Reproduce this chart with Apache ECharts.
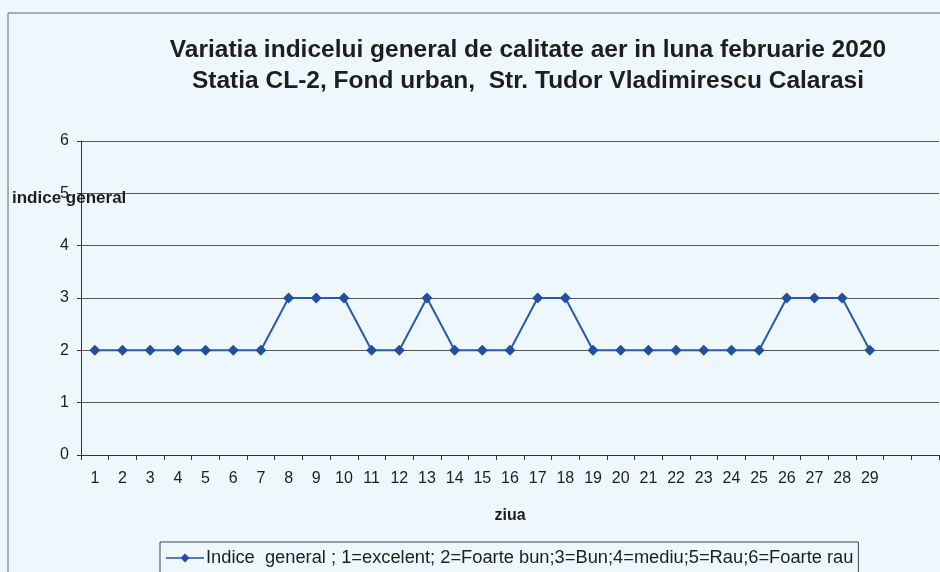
<!DOCTYPE html>
<html>
<head>
<meta charset="utf-8">
<script src="https://cdn.jsdelivr.net/npm/echarts@6/dist/echarts.min.js"></script>
<style>
  html, body { margin: 0; padding: 0; background: #eef7fb; }
  #chart { width: 940px; height: 572px; }
</style>
</head>
<body>
<div id="chart"></div>
<script>
// zilele lunii (30 si 31 raman goale, februarie are 29 zile)
const days = [];
for (let d = 1; d <= 31; d++) days.push(d <= 29 ? String(d) : '');

// indice general pe zile
const indiceGeneral = [2, 2, 2, 2, 2, 2, 2, 3, 3, 3, 2, 2, 3, 2, 2, 2, 3, 3, 2, 2, 2, 2, 2, 2, 2, 3, 3, 3, 2];

const titleLines = [
    'Variatia indicelui general de calitate aer in luna februarie 2020',
    'Statia CL-2, Fond urban,  Str. Tudor Vladimirescu Calarasi'
];
const seriesName = 'Indice  general ; 1=excelent; 2=Foarte bun;3=Bun;4=mediu;5=Rau;6=Foarte rau';

const chart = echarts.init(document.getElementById('chart'));

const font = 'Liberation Sans, Arial, sans-serif';

chart.setOption({
    backgroundColor: '#eef7fb',
    animation: false,
    title: {
        text: titleLines.join('\n'),
        left: 523,
        top: 30,
        textAlign: 'center',
        textStyle: {
            fontFamily: font,
            fontSize: 24.5,
            fontWeight: 'bold',
            color: '#1e1e1e',
            lineHeight: 31
        }
    },
    graphic: [
        {
            type: 'rect',
            shape: { x: 8, y: 13, width: 960, height: 600 },
            style: { fill: 'none', stroke: '#666', lineWidth: 1 },
            silent: true
        },
        {
            type: 'text',
            left: 12,
            top: 190,
            style: {
                text: 'indice general',
                fontFamily: font,
                fontSize: 17,
                fontWeight: 'bold',
                fill: '#1e1e1e'
            },
            z: 100
        }
    ],
    legend: {
        left: 160,
        top: 542,
        padding: [7, 5, 10, 6],
        borderColor: '#444',
        borderWidth: 1,
        itemWidth: 38,
        itemHeight: 9,
        itemGap: 4,
        textStyle: { fontFamily: font, fontSize: 18.3, color: '#1e1e1e', padding: [0, 0, 0, -3] },
        data: [{ name: seriesName, icon: 'path://M0,3.8 L38,3.8 L38,5.2 L0,5.2 Z M19,0 L23.5,4.5 L19,9 L14.5,4.5 Z' }]
    },
    grid: {
        left: 81,
        right: 1,
        top: 141,
        bottom: 117,
        containLabel: false
    },
    xAxis: {
        type: 'category',
        data: days,
        name: 'ziua',
        nameLocation: 'middle',
        nameGap: 53,
        nameTextStyle: { fontFamily: font, fontSize: 16, fontWeight: 'bold', color: '#1e1e1e' },
        axisLine: { lineStyle: { color: '#333', width: 1 } },
        axisTick: { show: true, alignWithLabel: false, length: 5, lineStyle: { color: '#333' } },
        axisLabel: { fontFamily: font, fontSize: 16, color: '#1e1e1e', margin: 16, interval: 0 },
        splitLine: { show: false }
    },
    yAxis: {
        type: 'value',
        min: 0,
        max: 6,
        interval: 1,
        axisLine: { show: true, lineStyle: { color: '#333', width: 1 } },
        axisTick: { show: true, length: 4, lineStyle: { color: '#333' } },
        axisLabel: { fontFamily: font, fontSize: 16, color: '#1e1e1e', margin: 12 },
        splitLine: { show: true, lineStyle: { color: '#555', width: 1 } }
    },
    series: [{
        name: seriesName,
        type: 'line',
        data: indiceGeneral,
        symbol: 'diamond',
        symbolSize: 11,
        itemStyle: { color: '#23509e' },
        lineStyle: { color: '#2d5aa8', width: 2 }
    }]
});
</script>
</body>
</html>
